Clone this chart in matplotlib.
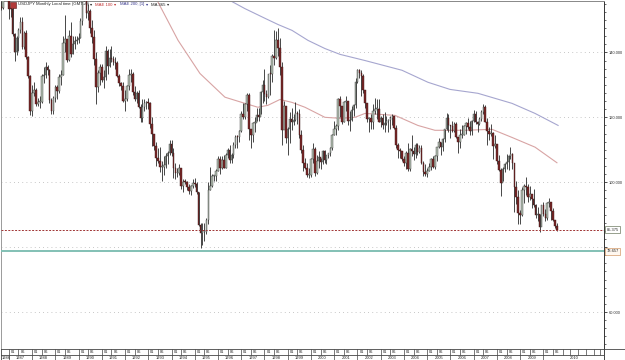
"""USDJPY monthly candles, Sep 1986 - Aug 2010, with two moving-average envelopes."""
import numpy as np
import matplotlib
matplotlib.use("Agg")
import matplotlib.pyplot as plt
from matplotlib.patches import Rectangle
from matplotlib.ticker import FixedLocator, MultipleLocator, FuncFormatter
import matplotlib.transforms as mtransforms

# month index 0 = Jan 1987; first candle is Sep 1986
FIRST_MONTH = -4
FIRST_OPEN = 154.0

CLOSE = [
    153.8, 163.0, 162.2, 160.1,  # 1986 Sep-Dec
    153.5, 153.3, 145.8, 140.0, 144.5, 147.0, 149.3, 141.8, 146.0, 138.5, 132.6, 122.0,  # 1987
    127.5, 128.4, 124.1, 124.8, 124.8, 132.6, 133.0, 135.5, 134.6, 125.4, 121.9, 125.9,  # 1988
    129.2, 128.0, 132.5, 133.0, 143.0, 144.0, 137.8, 145.0, 139.5, 142.5, 143.5, 143.8,  # 1989
    144.5, 149.8, 157.6, 158.6, 152.0, 152.9, 147.5, 144.8, 137.9, 129.4, 133.8, 135.4,  # 1990
    131.5, 132.5, 140.5, 135.7, 138.3, 138.0, 137.0, 136.8, 132.8, 130.7, 129.6, 124.9,  # 1991
    125.5, 129.5, 133.0, 133.3, 127.8, 125.5, 127.5, 123.3, 119.8, 123.1, 124.3, 124.7,  # 1992
    124.5, 117.8, 114.8, 111.1, 107.4, 106.6, 104.6, 104.8, 105.4, 108.2, 109.1, 111.9,  # 1993
    108.9, 104.3, 102.7, 102.8, 104.3, 98.8, 100.2, 100.0, 98.6, 97.2, 98.8, 99.7,  # 1994
    99.5, 97.0, 86.7, 84.5, 84.6, 84.7, 88.5, 97.5, 98.8, 101.8, 101.9, 103.4,  # 1995
    107.0, 104.5, 106.8, 104.5, 108.5, 109.9, 106.9, 108.3, 111.4, 114.0, 113.8, 115.8,  # 1996
    121.1, 120.2, 124.1, 126.9, 116.5, 114.5, 118.2, 118.3, 120.8, 120.0, 127.9, 130.0,  # 1997
    127.3, 126.3, 133.5, 133.2, 138.8, 138.2, 143.9, 141.5, 135.5, 116.2, 123.5, 113.5,  # 1998
    116.3, 119.5, 118.5, 119.3, 121.4, 121.0, 114.6, 109.8, 106.0, 104.3, 102.1, 102.2,  # 1999
    107.3, 110.2, 102.7, 106.5, 107.7, 106.2, 109.5, 106.7, 108.3, 108.9, 110.4, 114.4,  # 2000
    116.5, 117.4, 125.5, 123.5, 118.7, 124.7, 125.0, 118.8, 119.3, 122.4, 123.8, 131.0,  # 2001
    134.5, 133.8, 132.7, 128.5, 124.5, 119.5, 119.7, 118.5, 121.8, 122.5, 122.5, 118.7,  # 2002
    119.8, 117.6, 118.1, 118.9, 119.2, 119.8, 120.5, 116.8, 111.5, 109.9, 109.5, 107.2,  # 2003
    105.8, 109.1, 104.0, 110.3, 109.5, 108.8, 111.5, 109.2, 110.5, 105.8, 103.1, 102.6,  # 2004
    103.6, 104.6, 107.2, 104.8, 108.2, 110.9, 112.5, 110.8, 113.4, 116.4, 119.8, 117.7,  # 2005
    117.2, 115.8, 117.8, 113.8, 112.5, 114.4, 114.6, 117.3, 118.1, 116.9, 115.8, 119.0,  # 2006
    121.0, 118.5, 117.8, 119.4, 121.7, 123.2, 118.7, 115.8, 114.8, 115.3, 111.2, 111.7,  # 2007
    106.4, 103.8, 99.7, 104.0, 105.5, 106.1, 108.0, 108.8, 106.0, 98.5, 95.5, 90.6,  # 2008
    89.9, 97.6, 98.9, 98.5, 95.3, 96.4, 94.7, 93.0, 89.8, 90.3, 86.3, 93.0,  # 2009
    90.3, 88.9, 93.5, 93.9, 91.2, 88.4, 86.5, 85.375,  # 2010 Jan-Aug
]
HIGH = [
    156.0, 163.5, 165.2, 163.0,
    159.0, 155.0, 153.9, 146.0, 145.0, 147.5, 151.0, 151.0, 146.5, 147.0, 139.0, 133.0,
    130.0, 131.0, 129.0, 126.0, 126.5, 133.5, 135.5, 137.0, 136.0, 135.0, 126.0, 126.5,
    130.0, 130.0, 133.5, 134.5, 145.0, 151.5, 143.0, 147.0, 149.5, 145.0, 145.0, 145.0,
    146.0, 150.5, 159.0, 160.3, 158.5, 155.0, 153.5, 150.0, 147.0, 140.0, 134.5, 136.5,
    136.5, 134.5, 142.0, 141.0, 141.0, 142.0, 139.0, 138.5, 137.5, 133.5, 131.0, 131.0,
    128.5, 130.0, 135.0, 135.0, 134.0, 129.5, 128.0, 128.5, 124.0, 125.5, 125.5, 125.0,
    126.0, 124.8, 120.0, 115.0, 112.5, 110.5, 111.0, 106.5, 108.0, 109.0, 109.5, 113.0,
    113.0, 110.5, 106.0, 104.5, 105.5, 104.5, 101.0, 101.0, 100.5, 99.5, 99.0, 101.0,
    101.2, 100.0, 97.0, 87.5, 87.5, 87.5, 89.0, 100.0, 104.8, 102.5, 102.3, 104.2,
    108.0, 108.0, 108.0, 108.5, 109.0, 110.5, 111.5, 109.0, 112.5, 114.5, 114.5, 116.0,
    122.0, 124.5, 124.5, 127.5, 127.5, 116.5, 118.5, 120.0, 123.0, 123.0, 128.0, 131.5,
    135.0, 128.5, 133.5, 136.0, 139.5, 147.0, 146.5, 147.6, 144.5, 137.0, 125.0, 123.5,
    117.0, 121.5, 122.8, 121.0, 124.7, 122.0, 122.5, 116.0, 111.5, 107.5, 106.0, 104.5,
    107.5, 112.0, 111.0, 108.5, 109.7, 107.5, 110.0, 109.8, 108.5, 109.0, 111.0, 115.0,
    119.0, 118.0, 126.0, 126.5, 123.5, 125.0, 126.5, 125.0, 122.0, 123.5, 124.0, 132.0,
    135.0, 135.0, 134.5, 133.5, 128.5, 124.5, 120.0, 121.0, 124.0, 126.0, 125.5, 125.5,
    120.5, 121.0, 121.5, 120.5, 119.5, 120.5, 121.0, 120.5, 117.5, 112.0, 110.5, 109.5,
    108.0, 109.5, 112.0, 110.5, 114.5, 111.0, 112.0, 112.0, 111.5, 111.5, 106.5, 105.5,
    104.5, 106.0, 107.5, 108.0, 108.5, 111.0, 113.5, 112.5, 113.5, 116.5, 121.4, 121.0,
    117.5, 119.0, 118.5, 118.5, 114.0, 116.5, 117.5, 117.5, 118.5, 119.9, 119.0, 119.2,
    122.2, 122.0, 119.0, 120.0, 122.2, 124.1, 123.9, 119.8, 117.0, 118.0, 115.4, 114.7,
    110.5, 108.5, 104.5, 104.8, 106.0, 108.6, 108.5, 110.7, 109.0, 106.0, 100.5, 97.5,
    91.5, 98.5, 99.6, 101.5, 99.5, 98.9, 96.0, 97.8, 93.2, 92.3, 90.3, 93.0,
    93.8, 91.8, 93.8, 95.0, 94.0, 92.0, 88.5, 87.5,
]
LOW = [
    153.0, 153.5, 160.0, 158.0,
    150.4, 151.0, 145.0, 137.3, 139.1, 140.4, 146.0, 141.0, 141.2, 138.0, 132.0, 120.8,
    120.5, 126.5, 123.5, 123.5, 123.0, 124.5, 130.5, 132.0, 133.0, 124.5, 121.0, 121.0,
    124.8, 125.5, 127.5, 130.0, 133.0, 140.0, 137.0, 137.5, 138.5, 139.5, 141.0, 142.5,
    143.0, 144.5, 148.5, 156.0, 150.5, 150.0, 146.0, 143.0, 136.0, 124.2, 127.8, 130.0,
    131.0, 129.0, 131.5, 133.5, 135.5, 137.0, 136.0, 135.0, 132.5, 129.5, 128.5, 124.6,
    122.0, 125.0, 128.5, 131.0, 127.0, 125.0, 124.5, 123.0, 118.6, 118.5, 122.0, 122.5,
    122.5, 116.8, 111.3, 110.0, 105.0, 106.0, 103.0, 100.5, 102.3, 104.5, 105.5, 108.5,
    108.0, 101.3, 101.0, 101.5, 102.2, 98.0, 97.0, 99.5, 97.6, 96.3, 96.2, 98.3,
    98.5, 96.5, 86.5, 79.8, 80.5, 82.0, 84.0, 87.0, 97.5, 98.5, 100.5, 100.5,
    103.5, 102.5, 104.0, 104.5, 104.5, 107.5, 106.0, 106.0, 107.5, 110.5, 110.5, 112.5,
    115.5, 119.5, 119.5, 122.0, 113.0, 110.5, 112.5, 115.5, 119.0, 119.0, 121.0, 124.5,
    125.0, 124.0, 126.0, 127.0, 131.0, 136.0, 138.0, 139.0, 133.0, 111.6, 117.5, 112.0,
    108.3, 112.0, 116.0, 117.5, 119.0, 118.0, 113.5, 109.0, 103.5, 104.0, 101.5, 101.3,
    101.5, 106.0, 102.0, 102.5, 104.5, 104.0, 105.5, 106.0, 105.5, 107.5, 108.0, 110.0,
    114.5, 114.5, 116.0, 120.0, 118.0, 118.5, 122.0, 117.5, 115.8, 119.0, 120.5, 123.0,
    130.5, 132.0, 126.5, 127.5, 123.0, 118.5, 115.5, 116.5, 116.5, 121.0, 119.5, 118.5,
    117.0, 116.5, 115.5, 117.5, 115.5, 116.5, 117.5, 116.5, 110.5, 107.5, 107.5, 106.5,
    105.0, 104.0, 103.5, 103.5, 108.0, 106.8, 107.5, 108.5, 109.0, 105.5, 102.0, 101.8,
    101.7, 103.5, 103.8, 104.5, 104.0, 106.5, 110.5, 108.5, 109.5, 112.5, 116.0, 115.5,
    113.5, 115.5, 115.5, 113.5, 108.9, 110.5, 113.5, 114.5, 115.0, 116.5, 114.5, 114.5,
    118.5, 118.0, 115.5, 117.5, 119.0, 121.0, 118.5, 111.6, 113.0, 114.3, 107.2, 110.5,
    105.5, 103.5, 95.8, 100.5, 103.0, 104.0, 103.8, 107.0, 104.0, 90.9, 93.4, 87.2,
    87.1, 89.5, 93.5, 96.0, 94.0, 94.5, 92.0, 92.5, 89.0, 88.0, 84.8, 86.5,
    89.5, 88.1, 88.5, 92.5, 88.5, 88.2, 86.0, 85.0,
]

# moving-average curves (month index, price)
MAE100_X = [74.0, 76.6, 87.4, 98.7, 111.6, 121.9, 128.6, 133.8, 140.0, 146.2, 152.9,
            163.2, 171.0, 178.7, 183.9, 199.4, 211.2, 220.0, 227.8, 235.5, 249.5,
            259.8, 271.7, 283.0]
MAE100_Y = [158.0, 156.0, 143.7, 133.5, 126.2, 124.3, 123.1, 123.7, 125.5, 124.6, 123.1,
            120.0, 119.7, 120.0, 121.2, 120.6, 117.5, 116.0, 116.0, 116.0, 116.3,
            113.8, 110.8, 106.0]
MAE200_X = [110.0, 114.2, 121.9, 132.3, 139.0, 146.2, 154.5, 163.2, 171.0, 183.9, 203.0,
            216.4, 227.8, 242.2, 259.8, 271.7, 283.6]
MAE200_Y = [157.0, 156.0, 153.5, 150.5, 148.6, 146.8, 143.7, 141.2, 139.4, 137.5, 134.5,
            130.8, 128.6, 127.4, 124.3, 121.2, 117.5]

LAST_PRICE = 85.375
LEVEL = 78.657
PRICE_TICKS = [60, 80, 100, 120, 140]
HIDDEN_TICK_LABELS = [80]  # sits under the 78.657 box in the original
YEARS = list(range(1986, 2011))

XMIN, XMAX = -4.03, 307.3
YMIN, YMAX = 48.6, 156.0
W, H = 625, 360
FONT = "Liberation Sans"


def main():
    close = np.array(CLOSE)
    high = np.array(HIGH)
    low = np.array(LOW)
    x = np.arange(len(close)) + FIRST_MONTH
    opens = np.concatenate([[FIRST_OPEN], close[:-1]])
    up = close >= opens
    bottom = np.minimum(opens, close)
    height = np.maximum(np.abs(close - opens), 0.35)

    fig = plt.figure(figsize=(W / 100, H / 100), dpi=100)
    left, right = 1 / W, 604 / W
    ax = fig.add_axes([left, 1 - 349 / H, right - left, 349 / H - 0.5 / H])

    ax.vlines(x, low, high, color="#2a2a2a", lw=0.6, zorder=3)
    ax.bar(x[up], height[up], bottom=bottom[up], width=0.8,
           color="#b4c0b2", edgecolor="#3a3a3a", lw=0.3, zorder=4)
    ax.bar(x[~up], height[~up], bottom=bottom[~up], width=0.8,
           color="#7a2626", edgecolor="#3a1818", lw=0.3, zorder=4)

    ax.plot(MAE100_X, MAE100_Y, color="#d8a4a4", lw=0.8, zorder=2)
    ax.plot(MAE200_X, MAE200_Y, color="#a6a6cf", lw=0.8, zorder=2)

    ax.axhline(LAST_PRICE, color="#a03434", lw=0.7, ls=(0, (2, 1.5)), zorder=5)
    ax.axhline(LEVEL, color="#82c0b4", lw=1.4, zorder=5)

    ax.set_xlim(XMIN, XMAX)
    ax.set_ylim(YMIN, YMAX)
    ax.xaxis.set_visible(False)
    ax.yaxis.tick_right()
    ax.yaxis.set_major_locator(FixedLocator(PRICE_TICKS))
    ax.yaxis.set_minor_locator(MultipleLocator(2.5))
    ax.yaxis.set_major_formatter(
        FuncFormatter(lambda v, _: "" if round(v) in HIDDEN_TICK_LABELS else f"{v:.3f}"))
    ax.tick_params(axis="y", which="major", length=2.5, width=0.6, pad=1,
                   labelsize=2.9, colors="#333333")
    ax.tick_params(axis="y", which="minor", length=1.5, width=0.5, colors="#333333")
    for lab in ax.get_yticklabels():
        lab.set_fontfamily(FONT)
    ax.grid(axis="y", which="major", ls=(0, (1, 4)), color="#b4b4b4", lw=0.6)
    ax.set_axisbelow(True)
    ax.spines["left"].set_color("#9a9a9a")
    ax.spines["top"].set_color("#888888")
    for s in ("right", "bottom"):
        ax.spines[s].set_color("#333333")
    for s in ax.spines.values():
        s.set_linewidth(0.7)

    # price boxes on the right scale
    tr = mtransforms.blended_transform_factory(ax.transAxes, ax.transData)
    ax.text(1.004, LAST_PRICE, "85.375", transform=tr, fontsize=2.9, family=FONT,
            va="center", ha="left", clip_on=False, zorder=10, color="#222222",
            bbox=dict(boxstyle="square,pad=0.3", fc="white", ec="#6d7a60", lw=0.5))
    ax.text(1.004, LEVEL, "78.657", transform=tr, fontsize=2.9, family=FONT,
            va="center", ha="left", clip_on=False, zorder=10, color="#222222",
            bbox=dict(boxstyle="square,pad=0.3", fc="#fff8f0", ec="#d39a6a", lw=0.5))

    # header legend, laid out left to right
    fig.patches.append(Rectangle((10 / W, 1 - 8 / H), 6 / W, 6 / H, transform=fig.transFigure,
                                 fc="#b23a3a", ec="#5a1a1a", lw=0.4))
    ty = 1 - 4.5 / H
    pieces = [("USDJPY Monthly Local time (GMT+0)", "#222222", 1.5),
              ("\u25be", "#222222", 3),
              ("MAE 100", "#c03030", 1.5),
              ("\u25be", "#c03030", 4),
              ("MAE 200, [1]", "#38388c", 1.5),
              ("\u25be", "#38388c", 3),
              ("MA 365", "#222222", 1.5),
              ("\u25be", "#222222", 0)]
    renderer = fig.canvas.get_renderer()
    px = 17.5
    for txt, col, gap in pieces:
        fam = "DejaVu Sans" if txt == "\u25be" else FONT
        t = fig.text(px / W, ty, txt, fontsize=3.1, family=fam, color=col,
                     va="center", ha="left")
        px = t.get_window_extent(renderer).x1 + gap

    # date scale: months row above, years row below
    ax2 = fig.add_axes([left, 0, right - left, 11 / H])
    ax2.set_xlim(XMIN, XMAX)
    ax2.set_ylim(0, 11)
    ax2.set_xticks([])
    ax2.set_yticks([])
    for s in ax2.spines.values():
        s.set_color("#444444")
        s.set_linewidth(0.6)
    ax2.axhline(5, color="#444444", lw=0.6)
    for yr in YEARS:
        jan = (yr - 1987) * 12
        jun = jan + 5
        ax2.vlines([jan, jun], 5, 11, color="#444444", lw=0.5)
        ax2.vlines(jan, 0, 5, color="#444444", lw=0.5)
        for m, lab in ((jan, "01"), (jun, "06")):
            if m + 1.0 > XMIN:
                ax2.text(m + 1.0, 8, lab, fontsize=2.9, family=FONT, ha="left", va="center",
                         color="#222222")
        if yr == 1986:
            ax2.text(XMIN + 0.4, 2.4, str(yr), fontsize=2.9, family=FONT, ha="left",
                     va="center", color="#222222")
            continue
        cx = (jan + XMAX) / 2 if yr == 2010 else jan + 6
        ax2.text(cx, 2.4, str(yr), fontsize=2.9, family=FONT, ha="center", va="center",
                 color="#222222")
    ax2.vlines([286, 290, 294, 298, 302, 305], 5, 11, color="#444444", lw=0.5)

    fig.patches.append(Rectangle((604 / W, 0.5 / H), 20.5 / W, 10.5 / H, transform=fig.transFigure,
                                 fc="none", ec="#444444", lw=0.6))

    fig.savefig("out.png", dpi=100)


if __name__ == "__main__":
    main()
